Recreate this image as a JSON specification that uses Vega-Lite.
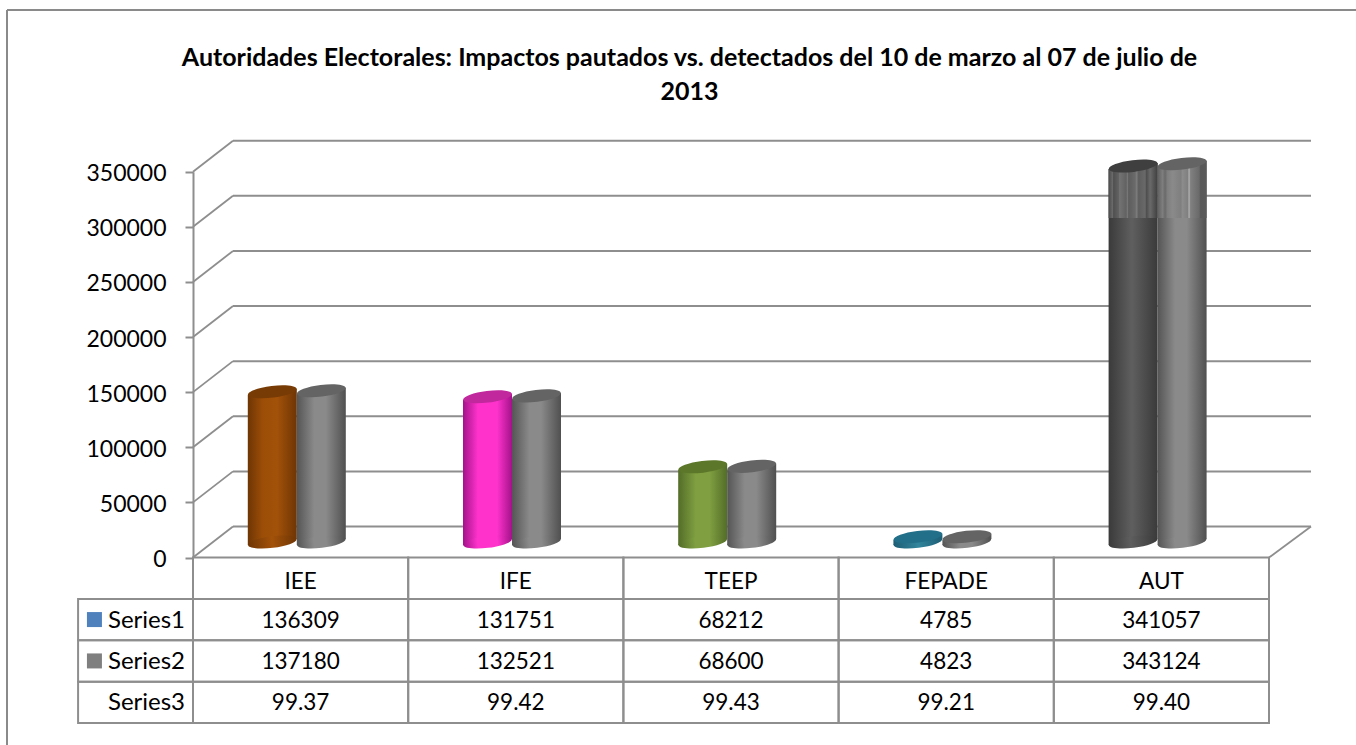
{"$schema":"https://vega.github.io/schema/vega-lite/v6.json","width":1349,"height":735,"autosize":"none","padding":{"left":7,"top":10,"right":0,"bottom":0},"background":"white","view":{"stroke":null,"fill":"white"},
"title":{"text":["Autoridades Electorales: Impactos pautados vs. detectados del 10 de marzo al 07 de julio de","2013"],"font":"Lato","fontWeight":"bold","fontSize":25,"lineHeight":34,"color":"#000000","anchor":"middle","dx":8,"dy":95.5,"offset":0},
"datasets":{
"valores":[
{"entidad":"IEE","serie":"Series1","valor":136309,"texto":"136309"},{"entidad":"IFE","serie":"Series1","valor":131751,"texto":"131751"},{"entidad":"TEEP","serie":"Series1","valor":68212,"texto":"68212"},{"entidad":"FEPADE","serie":"Series1","valor":4785,"texto":"4785"},{"entidad":"AUT","serie":"Series1","valor":341057,"texto":"341057"},
{"entidad":"IEE","serie":"Series2","valor":137180,"texto":"137180"},{"entidad":"IFE","serie":"Series2","valor":132521,"texto":"132521"},{"entidad":"TEEP","serie":"Series2","valor":68600,"texto":"68600"},{"entidad":"FEPADE","serie":"Series2","valor":4823,"texto":"4823"},{"entidad":"AUT","serie":"Series2","valor":343124,"texto":"343124"},
{"entidad":"IEE","serie":"Series3","valor":99.37,"texto":"99.37"},{"entidad":"IFE","serie":"Series3","valor":99.42,"texto":"99.42"},{"entidad":"TEEP","serie":"Series3","valor":99.43,"texto":"99.43"},{"entidad":"FEPADE","serie":"Series3","valor":99.21,"texto":"99.21"},{"entidad":"AUT","serie":"Series3","valor":99.40,"texto":"99.40"}],
"entidades":[{"entidad":"IEE","fila":"Categoria"},{"entidad":"IFE","fila":"Categoria"},{"entidad":"TEEP","fila":"Categoria"},{"entidad":"FEPADE","fila":"Categoria"},{"entidad":"AUT","fila":"Categoria"}],
"series":[{"serie":"Series1","clave":"si"},{"serie":"Series2","clave":"si"},{"serie":"Series3","clave":"no"}],
"ticks":[{"v":0},{"v":50000},{"v":100000},{"v":150000},{"v":200000},{"v":250000},{"v":300000},{"v":350000}]},
"resolve":{"scale":{"x":"independent","y":"independent"}},
"layer":[
{"data":{"name":"ticks"},"transform":[{"filter":"datum.v===0"}],"mark":{"type":"rule","color":"#8a8a8a","strokeWidth":2},"encoding":{"x":{"datum":0,"type":"quantitative","scale":{"domain":[0,1],"range":[0,1349]},"axis":null}}},
{"data":{"name":"ticks"},"transform":[{"filter":"datum.v===0"}],"mark":{"type":"rule","color":"#8a8a8a","strokeWidth":2},"encoding":{"y":{"datum":0,"type":"quantitative","scale":{"domain":[0,1],"range":[0,735]},"axis":null}}},
{"data":{"name":"ticks"},"layer":[
{"mark":{"type":"rule","color":"#8e8e8e","strokeWidth":2,"xOffset":40,"x2Offset":42,"yOffset":-31},"encoding":{"x":{"datum":0,"type":"quantitative","scale":{"domain":[0,5],"range":[186,1262]},"axis":null},"x2":{"datum":5},"y":{"field":"v","type":"quantitative","scale":{"domain":[0,350000],"range":[547.5,161.7]},"axis":null}}},
{"mark":{"type":"rule","color":"#8e8e8e","strokeWidth":1.8,"x2Offset":40,"y2Offset":-31},"encoding":{"x":{"datum":0,"type":"quantitative","scale":{"domain":[0,5],"range":[186,1262]},"axis":null},"x2":{"datum":0},"y":{"field":"v","type":"quantitative","scale":{"domain":[0,350000],"range":[547.5,161.7]},"axis":null},"y2":{"field":"v"}}},
{"transform":[{"filter":"datum.v===0"}],"mark":{"type":"rule","color":"#8e8e8e","strokeWidth":1.8,"x2Offset":42,"y2Offset":-31},"encoding":{"x":{"datum":5,"type":"quantitative","scale":{"domain":[0,5],"range":[186,1262]},"axis":null},"x2":{"datum":5},"y":{"field":"v","type":"quantitative","scale":{"domain":[0,350000],"range":[547.5,161.7]},"axis":null},"y2":{"field":"v"}}}
]},
{"data":{"name":"valores"},"encoding":{
"x":{"field":"entidad","type":"nominal","sort":null,"scale":{"type":"band","domain":["IEE","IFE","TEEP","FEPADE","AUT"],"range":[186,1262],"paddingInner":0,"paddingOuter":0},"axis":null},
"y":{"field":"valor","type":"quantitative","scale":{"domain":[0,350000],"range":[547.5,161.7]},"axis":{"title":null,"values":[0,50000,100000,150000,200000,250000,300000,350000],"format":"d","offset":-186,"labelFont":"Lato","labelFontSize":23,"labelColor":"#000000","labelPadding":19,"labelOffset":2,"tickSize":8,"tickWidth":2,"tickColor":"#8e8e8e","domainColor":"#8e8e8e","domainWidth":2,"grid":false,"zindex":0}}},
"layer":[
{"transform":[{"filter":"datum.serie==='Series1'&&datum.entidad==='IEE'"}],"layer":[
{"mark":{"type":"bar","width":25,"xOffset":-40.3,"yOffset":-12.5,"y2Offset":-12.5,"color":{"gradient":"linear","x1":0,"y1":0,"x2":1,"y2":0,"stops":[{"offset":0,"color":"#6e3504"},{"offset":0.6,"color":"#9c4e07"},{"offset":1,"color":"#a05008"}]}},"encoding":{"y2":{"datum":0}}},
{"mark":{"type":"bar","width":25,"xOffset":-16.3,"yOffset":-18.5,"y2Offset":-18.5,"color":{"gradient":"linear","x1":0,"y1":0,"x2":1,"y2":0,"stops":[{"offset":0,"color":"#a05008"},{"offset":0.2,"color":"#a35209"},{"offset":1,"color":"#6e3504"}]}},"encoding":{"y2":{"datum":0}}},
{"mark":{"type":"point","shape":"M-1,0A1,0.24,0,1,1,1,0A1,0.24,0,1,1,-1,0Z","size":2401,"angle":-7,"filled":true,"opacity":1,"xOffset":-28.3,"yOffset":-15.5,"color":{"gradient":"linear","x1":0,"y1":0,"x2":1,"y2":0,"stops":[{"offset":0,"color":"#6e3504"},{"offset":0.5,"color":"#a35209"},{"offset":1,"color":"#6e3504"}]}},"encoding":{"y":{"datum":0,"type":"quantitative"}}},
{"mark":{"type":"point","shape":"M-1,0A1,0.24,0,1,1,1,0A1,0.24,0,1,1,-1,0Z","size":2401,"angle":-7,"filled":true,"opacity":1,"xOffset":-28.3,"yOffset":-15.5,"color":"#773b05"}}]},
{"transform":[{"filter":"datum.serie==='Series1'&&datum.entidad==='IFE'"}],"layer":[
{"mark":{"type":"bar","width":25,"xOffset":-40.3,"yOffset":-12.5,"y2Offset":-12.5,"color":{"gradient":"linear","x1":0,"y1":0,"x2":1,"y2":0,"stops":[{"offset":0,"color":"#a3128a"},{"offset":0.6,"color":"#ff33cc"},{"offset":1,"color":"#ff33cc"}]}},"encoding":{"y2":{"datum":0}}},
{"mark":{"type":"bar","width":25,"xOffset":-16.3,"yOffset":-18.5,"y2Offset":-18.5,"color":{"gradient":"linear","x1":0,"y1":0,"x2":1,"y2":0,"stops":[{"offset":0,"color":"#ff33cc"},{"offset":0.4,"color":"#ff33cc"},{"offset":1,"color":"#a3128a"}]}},"encoding":{"y2":{"datum":0}}},
{"mark":{"type":"point","shape":"M-1,0A1,0.24,0,1,1,1,0A1,0.24,0,1,1,-1,0Z","size":2401,"angle":-7,"filled":true,"opacity":1,"xOffset":-28.3,"yOffset":-15.5,"color":{"gradient":"linear","x1":0,"y1":0,"x2":1,"y2":0,"stops":[{"offset":0,"color":"#a3128a"},{"offset":0.3,"color":"#ff33cc"},{"offset":0.7,"color":"#ff33cc"},{"offset":1,"color":"#a3128a"}]}},"encoding":{"y":{"datum":0,"type":"quantitative"}}},
{"mark":{"type":"point","shape":"M-1,0A1,0.24,0,1,1,1,0A1,0.24,0,1,1,-1,0Z","size":2401,"angle":-7,"filled":true,"opacity":1,"xOffset":-28.3,"yOffset":-15.5,"color":"#c1289d"}}]},
{"transform":[{"filter":"datum.serie==='Series1'&&datum.entidad==='TEEP'"}],"layer":[
{"mark":{"type":"bar","width":25,"xOffset":-40.3,"yOffset":-12.5,"y2Offset":-12.5,"color":{"gradient":"linear","x1":0,"y1":0,"x2":1,"y2":0,"stops":[{"offset":0,"color":"#536d27"},{"offset":0.7,"color":"#7f9f41"},{"offset":1,"color":"#7f9f41"}]}},"encoding":{"y2":{"datum":0}}},
{"mark":{"type":"bar","width":25,"xOffset":-16.3,"yOffset":-18.5,"y2Offset":-18.5,"color":{"gradient":"linear","x1":0,"y1":0,"x2":1,"y2":0,"stops":[{"offset":0,"color":"#7f9f41"},{"offset":0.3,"color":"#7f9f41"},{"offset":1,"color":"#536d27"}]}},"encoding":{"y2":{"datum":0}}},
{"mark":{"type":"point","shape":"M-1,0A1,0.24,0,1,1,1,0A1,0.24,0,1,1,-1,0Z","size":2401,"angle":-7,"filled":true,"opacity":1,"xOffset":-28.3,"yOffset":-15.5,"color":{"gradient":"linear","x1":0,"y1":0,"x2":1,"y2":0,"stops":[{"offset":0,"color":"#536d27"},{"offset":0.35,"color":"#7f9f41"},{"offset":0.65,"color":"#7f9f41"},{"offset":1,"color":"#536d27"}]}},"encoding":{"y":{"datum":0,"type":"quantitative"}}},
{"mark":{"type":"point","shape":"M-1,0A1,0.24,0,1,1,1,0A1,0.24,0,1,1,-1,0Z","size":2401,"angle":-7,"filled":true,"opacity":1,"xOffset":-28.3,"yOffset":-15.5,"color":"#5c7729"}}]},
{"transform":[{"filter":"datum.serie==='Series1'&&datum.entidad==='FEPADE'"}],"layer":[
{"mark":{"type":"bar","width":25,"xOffset":-40.3,"yOffset":-12.5,"y2Offset":-12.5,"color":{"gradient":"linear","x1":0,"y1":0,"x2":1,"y2":0,"stops":[{"offset":0,"color":"#1d5e75"},{"offset":1,"color":"#31859c"}]}},"encoding":{"y2":{"datum":0}}},
{"mark":{"type":"bar","width":25,"xOffset":-16.3,"yOffset":-18.5,"y2Offset":-18.5,"color":{"gradient":"linear","x1":0,"y1":0,"x2":1,"y2":0,"stops":[{"offset":0,"color":"#31859c"},{"offset":1,"color":"#1d5e75"}]}},"encoding":{"y2":{"datum":0}}},
{"mark":{"type":"point","shape":"M-1,0A1,0.24,0,1,1,1,0A1,0.24,0,1,1,-1,0Z","size":2401,"angle":-7,"filled":true,"opacity":1,"xOffset":-28.3,"yOffset":-15.5,"color":{"gradient":"linear","x1":0,"y1":0,"x2":1,"y2":0,"stops":[{"offset":0,"color":"#1d5e75"},{"offset":0.5,"color":"#31859c"},{"offset":1,"color":"#1d5e75"}]}},"encoding":{"y":{"datum":0,"type":"quantitative"}}},
{"mark":{"type":"point","shape":"M-1,0A1,0.24,0,1,1,1,0A1,0.24,0,1,1,-1,0Z","size":2401,"angle":-7,"filled":true,"opacity":1,"xOffset":-28.3,"yOffset":-15.5,"color":"#226f8a"}}]},
{"transform":[{"filter":"datum.serie==='Series1'&&datum.entidad==='AUT'"}],"layer":[
{"mark":{"type":"bar","width":25,"xOffset":-40.3,"yOffset":-12.5,"y2Offset":-12.5,"color":{"gradient":"linear","x1":0,"y1":0,"x2":1,"y2":0,"stops":[{"offset":0,"color":"#3a3a3a"},{"offset":0.9,"color":"#5e5e5e"},{"offset":1,"color":"#5e5e5e"}]}},"encoding":{"y2":{"datum":0}}},
{"mark":{"type":"bar","width":25,"xOffset":-16.3,"yOffset":-18.5,"y2Offset":-18.5,"color":{"gradient":"linear","x1":0,"y1":0,"x2":1,"y2":0,"stops":[{"offset":0,"color":"#5e5e5e"},{"offset":1,"color":"#3a3a3a"}]}},"encoding":{"y2":{"datum":0}}},
{"mark":{"type":"bar","width":25,"xOffset":-40.3,"yOffset":-12.5,"y2Offset":-15.5,"color":{"gradient":"linear","x1":0,"y1":0,"x2":1,"y2":0,"stops":[{"offset":0,"color":"#4a4a4a"},{"offset":0.16,"color":"#6a6a6a"},{"offset":0.2,"color":"#505050"},{"offset":0.4,"color":"#626262"},{"offset":0.44,"color":"#737373"},{"offset":0.7,"color":"#626262"},{"offset":0.76,"color":"#787878"},{"offset":0.8,"color":"#5e5e5e"},{"offset":1,"color":"#666666"}]}},"encoding":{"y2":{"datum":294000}}},
{"mark":{"type":"bar","width":25,"xOffset":-16.3,"yOffset":-18.5,"y2Offset":-15.5,"color":{"gradient":"linear","x1":0,"y1":0,"x2":1,"y2":0,"stops":[{"offset":0,"color":"#666666"},{"offset":0.1,"color":"#6a6a6a"},{"offset":0.16,"color":"#7c7c7c"},{"offset":0.24,"color":"#5e5e5e"},{"offset":0.5,"color":"#696969"},{"offset":0.56,"color":"#4e4e4e"},{"offset":0.7,"color":"#6a6a6a"},{"offset":1,"color":"#3f3f3f"}]}},"encoding":{"y2":{"datum":294000}}},
{"mark":{"type":"point","shape":"M-1,0A1,0.24,0,1,1,1,0A1,0.24,0,1,1,-1,0Z","size":2401,"angle":-7,"filled":true,"opacity":1,"xOffset":-28.3,"yOffset":-15.5,"color":{"gradient":"linear","x1":0,"y1":0,"x2":1,"y2":0,"stops":[{"offset":0,"color":"#3a3a3a"},{"offset":0.45,"color":"#5e5e5e"},{"offset":1,"color":"#3a3a3a"}]}},"encoding":{"y":{"datum":0,"type":"quantitative"}}},
{"mark":{"type":"point","shape":"M-1,0A1,0.24,0,1,1,1,0A1,0.24,0,1,1,-1,0Z","size":2401,"angle":-7,"filled":true,"opacity":1,"xOffset":-28.3,"yOffset":-15.5,"color":"#3f3f3f"}}]},
{"transform":[{"filter":"datum.serie==='Series2'"}],"layer":[
{"mark":{"type":"bar","width":25,"xOffset":8.7,"yOffset":-12.5,"y2Offset":-12.5,"color":{"gradient":"linear","x1":0,"y1":0,"x2":1,"y2":0,"stops":[{"offset":0,"color":"#555555"},{"offset":0.7,"color":"#8a8a8a"},{"offset":1,"color":"#8a8a8a"}]}},"encoding":{"y2":{"datum":0}}},
{"mark":{"type":"bar","width":25,"xOffset":32.7,"yOffset":-18.5,"y2Offset":-18.5,"color":{"gradient":"linear","x1":0,"y1":0,"x2":1,"y2":0,"stops":[{"offset":0,"color":"#8a8a8a"},{"offset":0.2,"color":"#8a8a8a"},{"offset":1,"color":"#505050"}]}},"encoding":{"y2":{"datum":0}}},
{"transform":[{"filter":"datum.entidad==='AUT'"}],"mark":{"type":"bar","width":25,"xOffset":8.7,"yOffset":-12.5,"y2Offset":-15.5,"color":{"gradient":"linear","x1":0,"y1":0,"x2":1,"y2":0,"stops":[{"offset":0,"color":"#606060"},{"offset":0.2,"color":"#7e7e7e"},{"offset":0.3,"color":"#6a6a6a"},{"offset":0.4,"color":"#808080"},{"offset":0.6,"color":"#8a8a8a"},{"offset":0.96,"color":"#7e7e7e"},{"offset":1,"color":"#8e8e8e"}]}},"encoding":{"y2":{"datum":294000}}},
{"transform":[{"filter":"datum.entidad==='AUT'"}],"mark":{"type":"bar","width":25,"xOffset":32.7,"yOffset":-18.5,"y2Offset":-15.5,"color":{"gradient":"linear","x1":0,"y1":0,"x2":1,"y2":0,"stops":[{"offset":0,"color":"#8e8e8e"},{"offset":0.24,"color":"#808080"},{"offset":0.3,"color":"#b0b0b0"},{"offset":0.36,"color":"#808080"},{"offset":0.7,"color":"#6a6a6a"},{"offset":0.76,"color":"#585858"},{"offset":1,"color":"#5a5a5a"}]}},"encoding":{"y2":{"datum":294000}}},
{"mark":{"type":"point","shape":"M-1,0A1,0.24,0,1,1,1,0A1,0.24,0,1,1,-1,0Z","size":2401,"angle":-7,"filled":true,"opacity":1,"xOffset":20.7,"yOffset":-15.5,"color":{"gradient":"linear","x1":0,"y1":0,"x2":1,"y2":0,"stops":[{"offset":0,"color":"#555555"},{"offset":0.35,"color":"#8a8a8a"},{"offset":0.6,"color":"#8a8a8a"},{"offset":1,"color":"#505050"}]}},"encoding":{"y":{"datum":0,"type":"quantitative"}}},
{"mark":{"type":"point","shape":"M-1,0A1,0.24,0,1,1,1,0A1,0.24,0,1,1,-1,0Z","size":2401,"angle":-7,"filled":true,"opacity":1,"xOffset":20.7,"yOffset":-15.5,"color":"#646464"}}]}
]},
{"encoding":{
"x":{"field":"entidad","type":"nominal","sort":null,"scale":{"type":"band","domain":["IEE","IFE","TEEP","FEPADE","AUT"],"range":[186,1262],"paddingInner":0,"paddingOuter":0},"axis":null},
"y":{"type":"nominal","sort":null,"scale":{"type":"band","domain":["Categoria","Series1","Series2","Series3"],"range":[547.5,713],"paddingInner":0,"paddingOuter":0},"axis":null}},
"layer":[
{"data":{"name":"entidades"},"mark":{"type":"rect","fill":"transparent","stroke":"#8e8e8e","strokeWidth":2},"encoding":{"y":{"field":"fila"}}},
{"data":{"name":"valores"},"mark":{"type":"rect","fill":"transparent","stroke":"#8e8e8e","strokeWidth":2},"encoding":{"y":{"field":"serie"}}},
{"data":{"name":"entidades"},"mark":{"type":"text","font":"Lato","fontSize":22.5,"color":"#000000","dy":4},"encoding":{"y":{"field":"fila"},"text":{"field":"entidad"}}},
{"data":{"name":"valores"},"mark":{"type":"text","font":"Lato","fontSize":22.5,"color":"#000000","dy":1},"encoding":{"y":{"field":"serie"},"text":{"field":"texto"}}}
]},
{"data":{"name":"series"},"encoding":{
"y":{"field":"serie","type":"nominal","sort":null,"scale":{"type":"band","domain":["Categoria","Series1","Series2","Series3"],"range":[547.5,713],"paddingInner":0,"paddingOuter":0},"axis":null}},
"layer":[
{"mark":{"type":"rect","fill":"transparent","stroke":"#8e8e8e","strokeWidth":2},"encoding":{"x":{"datum":-0.534,"type":"quantitative","scale":{"domain":[0,5],"range":[186,1262]},"axis":null},"x2":{"datum":0}}},
{"mark":{"type":"text","font":"Lato","fontSize":24,"color":"#000000","align":"right","dy":1},"encoding":{"x":{"datum":-0.037,"type":"quantitative","scale":{"domain":[0,5],"range":[186,1262]},"axis":null},"text":{"field":"serie"}}},
{"transform":[{"filter":"datum.clave==='si'"}],"mark":{"type":"point","shape":"square","size":225,"filled":true,"opacity":1},"encoding":{"x":{"datum":-0.458,"type":"quantitative","scale":{"domain":[0,5],"range":[186,1262]},"axis":null},"color":{"field":"serie","type":"nominal","scale":{"domain":["Series1","Series2"],"range":["#4f81bd","#7f7f7f"]},"legend":null}}}
]}
]}
